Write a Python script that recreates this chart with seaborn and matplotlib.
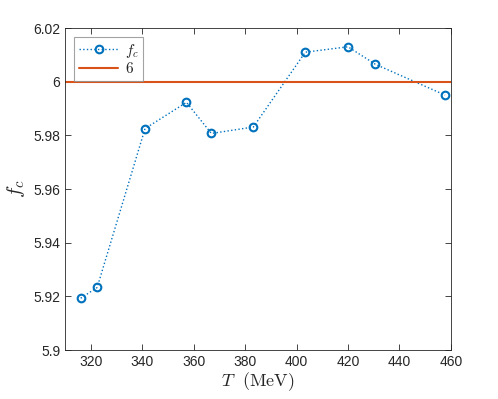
import matplotlib
matplotlib.use("Agg")
import matplotlib.pyplot as plt
from matplotlib.lines import Line2D
import seaborn as sns
import pandas as pd

# values
T = [316.1, 322.5, 341.1, 357.2, 366.9, 383.2, 403.4, 420.0, 430.6, 457.7]
fc = [5.9193, 5.9233, 5.9825, 5.9923, 5.9807, 5.9831, 6.0110, 6.0130, 6.0065, 5.9950]
ref_value = 6
x_ticks = [320, 340, 360, 380, 400, 420, 440, 460]
y_ticks = [5.9, 5.92, 5.94, 5.96, 5.98, 6.0, 6.02]
y_tick_labels = ["5.9", "5.92", "5.94", "5.96", "5.98", "6", "6.02"]

sns.set_style("white")
plt.rcParams["font.family"] = ["Liberation Sans", "DejaVu Sans"]
plt.rcParams["mathtext.fontset"] = "cm"

df = pd.DataFrame({"T": T, "fc": fc})

fig = plt.figure(figsize=(4.98, 3.99), dpi=100)
ax = fig.add_axes([0.1305, 0.1228, 0.775, 0.807])

blue = "#0072BD"
orange = "#D95319"

sns.lineplot(data=df, x="T", y="fc", ax=ax, color=blue, linestyle=":",
             linewidth=1.0, marker="o", markersize=5.5, markerfacecolor="none",
             markeredgecolor=blue, markeredgewidth=1.5, legend=False)
ax.axhline(ref_value, color=orange, linewidth=1.5)

ax.set_xlim(310, 460)
ax.set_ylim(5.9, 6.02)
ax.set_xticks(x_ticks)
ax.set_yticks(y_ticks)
ax.set_yticklabels(y_tick_labels)

for s in ax.spines.values():
    s.set_color("#262626")
    s.set_linewidth(0.6)
ax.tick_params(direction="in", length=4, width=0.6, color="#262626",
               labelsize=10, labelcolor="#262626", top=True, right=True,
               left=True, bottom=True)

ax.set_xlabel(r"$T\ \ \mathrm{(MeV)}$", fontsize=13, labelpad=1)
ax.set_ylabel(r"$f_c$", fontsize=15, labelpad=4)

handles = [
    Line2D([], [], color=blue, linestyle=":", linewidth=1.0, marker="o",
           markersize=5.5, markerfacecolor="none", markeredgewidth=1.5),
    Line2D([], [], color=orange, linewidth=1.5),
]
leg = ax.legend(handles, [r"$f_c$", r"$6$"], loc="upper left", fontsize=11,
                frameon=True, fancybox=False, edgecolor="#8c8c8c",
                borderpad=0.3, handlelength=2.6, labelspacing=0.1,
                borderaxespad=0.6, handletextpad=0.4, numpoints=1)
leg.get_frame().set_linewidth(0.8)

fig.savefig("out.png", dpi=100)
